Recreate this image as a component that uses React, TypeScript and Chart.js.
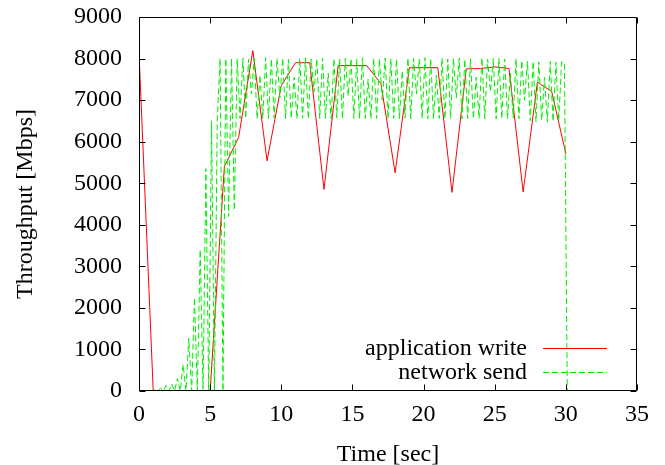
import React, { useEffect, useRef } from 'react';
import { Chart, registerables } from 'chart.js';

Chart.register(...registerables);

const FONT_FAMILY = '"Liberation Serif", "Times New Roman", serif';
const FONT_SIZE = 24;

// Application write throughput, one sample per second
const writeTimes = [
  0, 1, 2, 3, 4, 5, 6, 7, 8, 9, 10, 11, 12, 13, 14, 15,
  16, 17, 18, 19, 20, 21, 22, 23, 24, 25, 26, 27, 28, 29, 30,
];
const writeMbps = [
  8150, 0, 0, 0, 0, 0, 5400, 6100, 8190, 5540, 7350, 7900, 7900, 4850, 7830, 7830,
  7830, 7400, 5250, 7780, 7780, 7780, 4780, 7750, 7760, 7800, 7760, 4790, 7430, 7210, 5710,
];

// Network send throughput, sampled every 0.2 s starting at 0.1 s
const SEND_START = 0.1;
const SEND_STEP = 0.2;
const sendMbps = [
  // 0.1 .. 1.9
  0, 0, 0, 0, 0, 30, 0, 65, 0, 130,
  // 2.1 .. 3.9
  0, 170, 0, 300, 0, 640, 0, 1270, 0, 2250,
  // 4.1 .. 5.9
  0, 3400, 0, 5350, 0, 6500, 0, 6500, 8000, 0,
  // 6.1 .. 7.1
  8000, 4200, 8000, 4350, 8000, 6550,
  // 7.3 .. 9.1
  8010, 6560, 7990, 7150, 8000, 6550, 7600, 6560, 8020, 6550,
  // 9.3 .. 11.1
  7990, 6570, 8000, 7050, 8010, 6550, 7980, 6560, 7550, 6550,
  // 11.3 .. 13.1
  8000, 6560, 8020, 6550, 7990, 7200, 8000, 6550, 8010, 6560,
  // 13.3 .. 15.1
  7650, 6550, 8000, 6570, 7990, 6550, 8010, 7100, 8000, 6560,
  // 15.3 .. 17.1
  7980, 6550, 8020, 6560, 7500, 6550, 8000, 6560, 7990, 7000,
  // 17.3 .. 19.1
  8010, 6550, 8000, 6560, 7990, 6550, 7700, 6570, 8010, 6550,
  // 19.3 .. 21.1
  8000, 7150, 7990, 6560, 8020, 6550, 8000, 6550, 7600, 6560,
  // 21.3 .. 23.1
  8010, 6550, 7990, 6560, 8000, 7050, 8010, 6550, 7980, 6560,
  // 23.3 .. 25.1
  8000, 6550, 7550, 6560, 8020, 6550, 7990, 7200, 8000, 6550,
  // 25.3 .. 27.1
  8010, 6560, 7990, 6550, 7650, 6570, 8000, 6550, 7950, 7000,
  // 27.3 .. 29.1
  7940, 6500, 7930, 6480, 7920, 6520, 7550, 6470, 7930, 6490,
  // 29.3 .. 30.1
  7910, 6500, 7920, 7900, 0,
];

const X_MIN = 0;
const X_MAX = 35;
const X_STEP = 5;
const Y_MIN = 0;
const Y_MAX = 9000;
const Y_STEP = 1000;

const X_TITLE = 'Time [sec]';
const Y_TITLE = 'Throughput [Mbps]';
const WRITE_LABEL = 'application write';
const SEND_LABEL = 'network send';

const WRITE_COLOR = '#ff0000';
const SEND_COLOR = '#00ee00';
const SEND_DASH = [6, 3];

// Border box with inward ticks on all four sides
const framePlugin = {
  id: 'plotFrame',
  afterDatasetsDraw(chart: any) {
    const { ctx, chartArea: a, scales } = chart;
    const xs = scales.x;
    const ys = scales.y;
    const L = Math.round(a.left) + 0.5;
    const R = Math.round(a.right) - 0.5;
    const T = Math.round(a.top) + 0.5;
    const B = Math.round(a.bottom) - 0.5;
    const tick = 6;
    ctx.save();
    ctx.strokeStyle = '#000';
    ctx.lineWidth = 1;
    ctx.beginPath();
    ctx.rect(L, T, R - L, B - T);
    for (const t of xs.ticks) {
      const px = Math.round(xs.getPixelForValue(t.value)) + 0.5;
      ctx.moveTo(px, B);
      ctx.lineTo(px, B - tick);
      ctx.moveTo(px, T);
      ctx.lineTo(px, T + tick);
    }
    for (const t of ys.ticks) {
      const py = Math.round(ys.getPixelForValue(t.value)) + 0.5;
      ctx.moveTo(L, py);
      ctx.lineTo(L + tick, py);
      ctx.moveTo(R, py);
      ctx.lineTo(R - tick, py);
    }
    ctx.stroke();
    ctx.restore();
  },
};

// Key in the lower right: label text, then a sample of the line style
const keyPlugin = {
  id: 'plotKey',
  afterDraw(chart: any) {
    const { ctx, chartArea: a } = chart;
    const textRight = a.right - 110;
    const lineStart = a.right - 94;
    const lineEnd = a.right - 30;
    const rows = [a.bottom - 43, a.bottom - 19];
    ctx.save();
    ctx.font = `${FONT_SIZE}px ${FONT_FAMILY}`;
    ctx.textAlign = 'right';
    ctx.textBaseline = 'middle';
    chart.data.datasets.forEach((ds: any, i: number) => {
      const y = rows[i];
      ctx.fillStyle = '#000';
      ctx.fillText(ds.label, textRight, y + 1);
      ctx.strokeStyle = ds.borderColor;
      ctx.lineWidth = ds.borderWidth;
      ctx.setLineDash(ds.borderDash || []);
      ctx.beginPath();
      ctx.moveTo(lineStart, Math.round(y) + 0.5);
      ctx.lineTo(lineEnd, Math.round(y) + 0.5);
      ctx.stroke();
    });
    ctx.restore();
  },
};

const plainNumber = (v: number | string) => String(v);

export default function App() {
  const canvasRef = useRef<HTMLCanvasElement | null>(null);

  useEffect(() => {
    const canvas = canvasRef.current;
    if (!canvas) return;

    const writePoints = writeTimes.map((t, i) => ({ x: t, y: writeMbps[i] }));
    const sendPoints = sendMbps.map((v, k) => ({
      x: Math.round((SEND_START + SEND_STEP * k) * 100) / 100,
      y: v,
    }));

    const tickFont = { family: FONT_FAMILY, size: FONT_SIZE };

    const chart = new Chart(canvas, {
      type: 'line',
      data: {
        datasets: [
          {
            label: WRITE_LABEL,
            data: writePoints,
            borderColor: WRITE_COLOR,
            borderWidth: 1,
            pointRadius: 0,
            tension: 0,
            fill: false,
            order: 2,
          },
          {
            label: SEND_LABEL,
            data: sendPoints,
            borderColor: SEND_COLOR,
            borderWidth: 1,
            borderDash: SEND_DASH,
            pointRadius: 0,
            tension: 0,
            fill: false,
            order: 1,
          },
        ],
      },
      options: {
        responsive: false,
        animation: false,
        devicePixelRatio: 1,
        color: '#000',
        layout: { padding: { top: 17, right: 28, left: 0, bottom: 0 } },
        plugins: {
          legend: { display: false },
          tooltip: { enabled: false },
        },
        scales: {
          x: {
            type: 'linear',
            min: X_MIN,
            max: X_MAX,
            grid: { display: false, drawTicks: false },
            border: { display: false },
            ticks: {
              stepSize: X_STEP,
              color: '#000',
              font: tickFont,
              padding: 9,
              maxRotation: 0,
              callback: plainNumber,
            },
            title: {
              display: true,
              text: X_TITLE,
              color: '#000',
              font: tickFont,
              padding: { top: 0, bottom: -4 },
            },
            afterFit(scale: any) {
              scale.height = 74;
              scale.paddingLeft = 0;
              scale.paddingRight = 0;
            },
          },
          y: {
            type: 'linear',
            min: Y_MIN,
            max: Y_MAX,
            grid: { display: false, drawTicks: false },
            border: { display: false },
            ticks: {
              stepSize: Y_STEP,
              color: '#000',
              font: tickFont,
              padding: 17,
              callback: plainNumber,
            },
            title: {
              display: true,
              text: Y_TITLE,
              color: '#000',
              font: tickFont,
              padding: { top: 11, bottom: 0 },
            },
            afterFit(scale: any) {
              scale.width = 139;
              scale.paddingTop = 0;
              scale.paddingBottom = 0;
            },
          },
        },
      },
      plugins: [framePlugin, keyPlugin],
    });

    return () => chart.destroy();
  }, []);

  return (
    <div style={{ position: 'fixed', left: 0, top: 0, width: 665, height: 465, background: '#fff' }}>
      <canvas ref={canvasRef} width={665} height={465} style={{ width: 665, height: 465 }} />
    </div>
  );
}
